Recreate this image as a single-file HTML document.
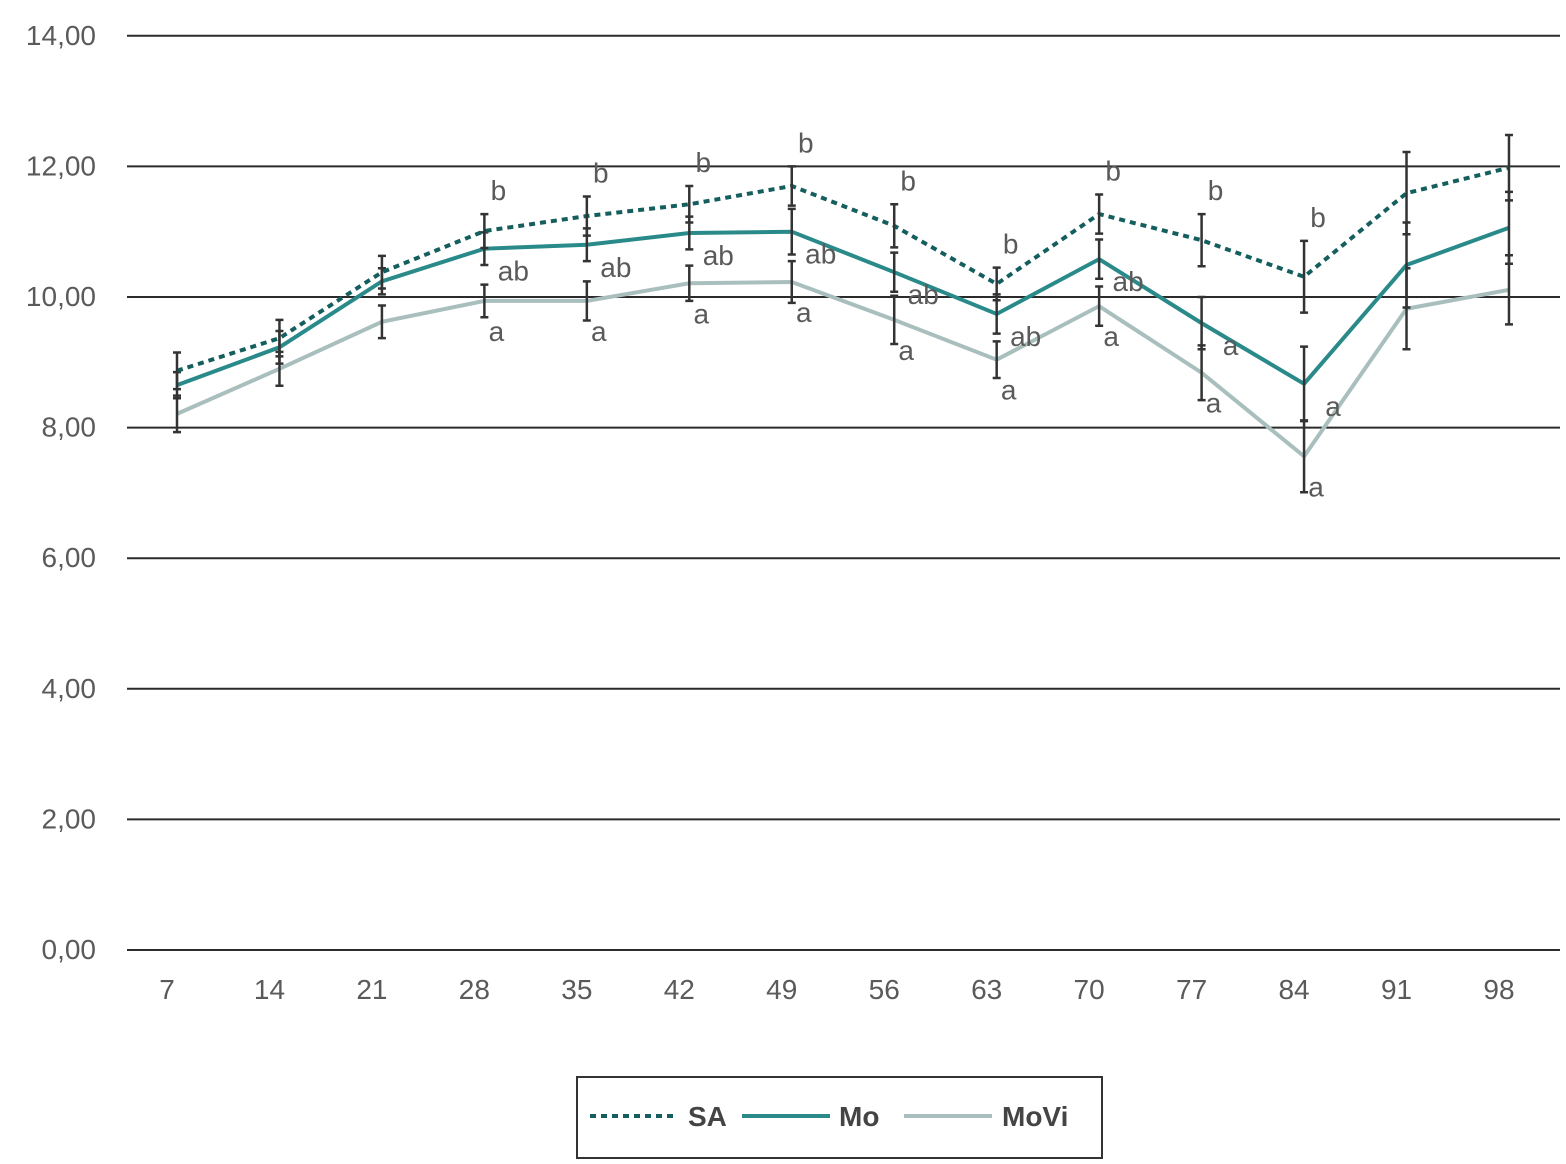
<!DOCTYPE html>
<html><head><meta charset="utf-8"><style>
body{margin:0;background:#fff}
svg{display:block;font-family:"Liberation Sans",sans-serif}
</style></head><body>
<svg id="chart" width="1566" height="1164"></svg>
<script>
const categories=[7,14,21,28,35,42,49,56,63,70,77,84,91,98];
const yTicks=[0,2,4,6,8,10,12,14];
const yTickLabels=["0,00","2,00","4,00","6,00","8,00","10,00","12,00","14,00"];
const saValues=[8.87,9.37,10.38,11.01,11.24,11.42,11.70,11.09,10.20,11.27,10.87,10.31,11.59,11.98];
const moValues=[8.65,9.23,10.24,10.74,10.80,10.98,11.00,10.38,9.74,10.58,9.60,8.67,10.49,11.06];
const moviValues=[8.21,8.90,9.62,9.94,9.94,10.21,10.23,9.65,9.04,9.86,8.84,7.56,9.82,10.11];
const saErr=[0.28,0.28,0.25,0.26,0.30,0.28,0.30,0.33,0.25,0.30,0.40,0.55,0.63,0.50];
const moErr=[0.20,0.25,0.20,0.25,0.25,0.25,0.35,0.30,0.30,0.30,0.40,0.57,0.65,0.55];
const moviErr=[0.28,0.26,0.25,0.25,0.30,0.27,0.32,0.37,0.28,0.30,0.42,0.55,0.62,0.53];
const saLetters=["","","","b","b","b","b","b","b","b","b","b","",""];
const moLetters=["","","","ab","ab","ab","ab","ab","ab","ab","a","a","",""];
const moviLetters=["","","","a","a","a","a","a","a","a","a","a","",""];
const NS="http://www.w3.org/2000/svg";
const svg=document.getElementById('chart');
const x0=177,dx=102.46,yBase=950,yPer=65.3;
const xs=i=>x0+i*dx;
const ys=v=>yBase-v*yPer;
const TXT='#5a5a5a';
function mk(t,a,p){const e=document.createElementNS(NS,t);for(const k in a)e.setAttribute(k,a[k]);(p||svg).appendChild(e);return e;}
yTicks.forEach((v,i)=>{
 const l=mk('line',{x1:127,x2:1560,y1:ys(v),y2:ys(v),stroke:'#2b2b2b','stroke-width':2});
 
 
 const t=mk('text',{x:96,y:ys(v)+9,'text-anchor':'end','font-size':28,fill:TXT});
 t.textContent=yTickLabels[i];
 
 
});
categories.forEach((c,i)=>{
 const t=mk('text',{x:xs(i)-10,y:999,'text-anchor':'middle','font-size':28,fill:TXT});
 t.textContent=c;
 
 
});
function series(vals,errs,color,dash,name){
 const g=mk('g',{});
 
 
 const p=mk('polyline',{points:vals.map((v,i)=>xs(i)+','+ys(v)).join(' '),fill:'none',stroke:color,'stroke-width':4,'stroke-dasharray':dash||''},g);
 
 
 vals.forEach((v,i)=>{
  const x=xs(i),a=ys(v+errs[i]),b=ys(v-errs[i]);
  const e=mk('path',{d:`M${x},${a}V${b}M${x-4},${a}H${x+4}M${x-4},${b}H${x+4}`,stroke:'#333','stroke-width':2.5,fill:'none'},g);
  
  
 });
}
series(moviValues,moviErr,'#a9bfbe','', 'movi');
series(moValues,moErr,'#2a8a8a','', 'mo');
series(saValues,saErr,'#145f5e','6 5','sa');
saLetters.forEach((s,i)=>{if(!s)return;
 const t=mk('text',{x:xs(i)+14,y:ys(saValues[i]+saErr[i])-14,'text-anchor':'middle','font-size':28,fill:TXT});
 t.textContent=s;
 
 
});
moLetters.forEach((s,i)=>{if(!s)return;
 const t=mk('text',{x:xs(i)+29,y:ys(moValues[i])+32,'text-anchor':'middle','font-size':28,fill:TXT});
 t.textContent=s;
 
 
});
moviLetters.forEach((s,i)=>{if(!s)return;
 const t=mk('text',{x:xs(i)+12,y:ys(moviValues[i])+40,'text-anchor':'middle','font-size':28,fill:TXT});
 t.textContent=s;
 
 
});
const lg=mk('g',{});


mk('rect',{x:577,y:1077,width:525,height:81,fill:'#fff',stroke:'#333','stroke-width':2},lg);
[['SA','#145f5e','6 5',590,688],['Mo','#2a8a8a','',742,839],['MoVi','#a9bfbe','',904,1002]].forEach(d=>{
 const l=mk('line',{x1:d[3],x2:d[3]+88,y1:1116,y2:1116,stroke:d[1],'stroke-width':4,'stroke-dasharray':d[2]},lg);
 
 
 const t=mk('text',{x:d[4],y:1126,'font-size':28,'font-weight':'bold',fill:'#444'},lg);
 t.textContent=d[0];
 
 
});
</script>
</body></html>
